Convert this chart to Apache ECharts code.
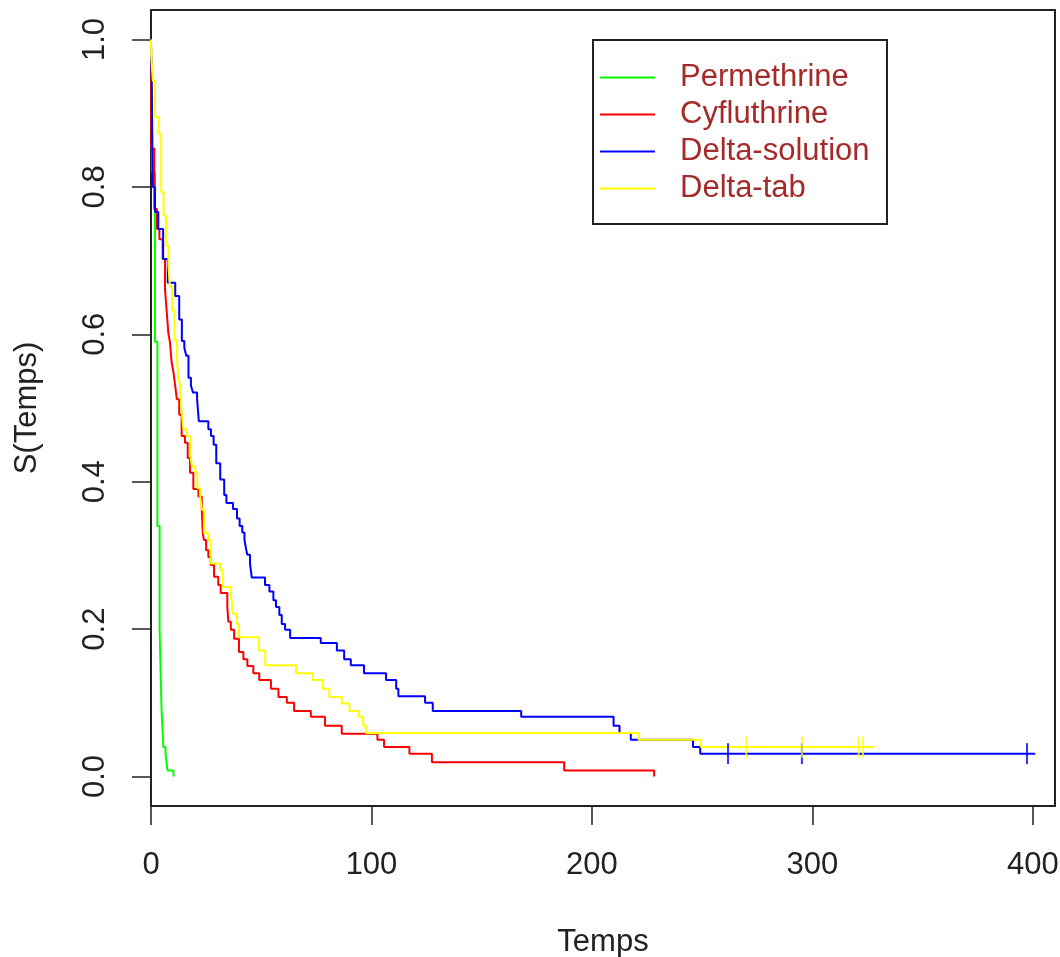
<!DOCTYPE html>
<html>
<head>
<meta charset="utf-8">
<script src="https://cdn.jsdelivr.net/npm/echarts@6/dist/echarts.min.js"></script>
<style>
html,body{margin:0;padding:0;background:#fff;}
#chart{width:1060px;height:957px;}
</style>
</head>
<body>
<div id="chart"></div>
<script>
// ---- data (Kaplan-Meier step curves: jump time -> survival after jump) ----
const seriesNames = ['Permethrine', 'Cyfluthrine', 'Delta-solution', 'Delta-tab'];

const permT = [0, 0.6, 1.8, 2.9, 3.9, 4.8, 5.6, 6.6, 7.5, 10.2];
const permS = [1, 0.82, 0.59, 0.34, 0.20, 0.09, 0.04, 0.03, 0.008, 0];

const cyfT = [0, 0.05, 0.2, 1.5, 2.7, 3.8, 5.3, 6.35, 7.1, 7.85, 8.6, 9.4, 10.1, 10.9, 11.7, 12.8, 13.9, 15.4, 16.65, 17.7, 19.2, 21.5, 23.0, 23.5, 24.0, 25.0, 26.0, 27.1, 28.6, 30.5, 31.6, 34.6, 35.1, 36.2, 37.7, 39.9, 41.9, 43.7, 46.4, 49.1, 54.4, 57.8, 61.6, 64.9, 72.5, 78.9, 86.5, 102.7, 105.7, 117.2, 127.4, 187.4, 228.2];
const cyfS = [1, 0.95, 0.852, 0.77, 0.743, 0.729, 0.702, 0.661, 0.632, 0.602, 0.589, 0.561, 0.550, 0.532, 0.512, 0.491, 0.462, 0.453, 0.432, 0.412, 0.390, 0.380, 0.364, 0.330, 0.321, 0.307, 0.298, 0.287, 0.271, 0.260, 0.249, 0.230, 0.210, 0.199, 0.187, 0.169, 0.159, 0.150, 0.140, 0.131, 0.119, 0.108, 0.100, 0.089, 0.081, 0.069, 0.058, 0.050, 0.040, 0.031, 0.0195, 0.008, 0];

const dsolT = [0, 0.05, 0.3, 0.8, 1.8, 3.3, 5.5, 7.6, 11.0, 12.8, 14.0, 15.1, 16.0, 17.0, 18.1, 19.0, 20.9, 21.7, 26.0, 27.2, 28.4, 29.6, 31.4, 33.2, 34.2, 37.2, 39.0, 40.2, 41.4, 42.4, 43.1, 43.7, 44.9, 45.7, 51.7, 53.7, 55.5, 56.7, 58.2, 59.3, 60.8, 63.1, 77.0, 84.3, 87.6, 90.6, 96.6, 106.6, 111.2, 112.2, 124.3, 127.8, 167.9, 209.8, 212.5, 217.6, 245.8, 249.1, 401];
const dsolS = [1, 0.98, 0.95, 0.80, 0.766, 0.743, 0.702, 0.670, 0.652, 0.620, 0.591, 0.582, 0.571, 0.541, 0.531, 0.521, 0.512, 0.482, 0.471, 0.462, 0.450, 0.425, 0.403, 0.382, 0.371, 0.363, 0.350, 0.340, 0.331, 0.321, 0.309, 0.301, 0.289, 0.270, 0.260, 0.251, 0.239, 0.230, 0.219, 0.207, 0.199, 0.188, 0.181, 0.171, 0.159, 0.151, 0.140, 0.131, 0.119, 0.109, 0.100, 0.089, 0.081, 0.069, 0.059, 0.050, 0.040, 0.031, 0.031];

const dtabT = [0, 0.05, 0.8, 1.8, 3.6, 4.6, 5.7, 6.8, 7.9, 8.6, 9.6, 10.6, 11.7, 12.4, 13.1, 13.8, 14.7, 16.2, 17.7, 18.5, 20.0, 21.0, 22.2, 23.0, 24.0, 26.0, 27.1, 31.3, 32.5, 36.2, 37.1, 38.9, 39.9, 49.0, 51.8, 65.8, 73.4, 77.9, 80.9, 86.5, 90.0, 94.1, 96.3, 97.5, 221.1, 249.4, 327.7];
const dtabS = [1, 0.98, 0.944, 0.895, 0.872, 0.793, 0.761, 0.720, 0.693, 0.665, 0.633, 0.592, 0.571, 0.541, 0.532, 0.500, 0.471, 0.462, 0.441, 0.421, 0.413, 0.391, 0.382, 0.362, 0.330, 0.321, 0.289, 0.280, 0.257, 0.250, 0.221, 0.207, 0.189, 0.171, 0.151, 0.140, 0.131, 0.119, 0.108, 0.099, 0.089, 0.081, 0.069, 0.059, 0.050, 0.040, 0.040];

// censoring marks (+)
const dsolCensT = [261.7, 295.2, 397.3];
const dsolCensS = [0.031, 0.031, 0.031];
const dtabCensT = [270.0, 295.2, 320.9, 322.9];
const dtabCensS = [0.040, 0.040, 0.040, 0.040];

const xTicks = [0, 100, 200, 300, 400];
const yTicks = [0, 0.2, 0.4, 0.6, 0.8, 1.0];

const colors = ['#00FF00', '#FF0000', '#0000FF', '#FFFF00'];
const FONT = 'Liberation Sans, Arial, sans-serif';

function pairs(t, s) { return t.map((v, i) => [v, s[i]]); }

const curveData = [pairs(permT, permS), pairs(cyfT, cyfS), pairs(dsolT, dsolS), pairs(dtabT, dtabS)];

const series = curveData.map((d, i) => ({
  name: seriesNames[i],
  type: 'line',
  step: 'end',
  data: d,
  symbol: 'none',
  lineStyle: { color: colors[i], width: 2 },
  itemStyle: { color: colors[i] },
  z: 3 + i
}));
series.push({
  type: 'scatter', data: pairs(dsolCensT, dsolCensS), symbol: 'rect', symbolSize: [2, 21],
  itemStyle: { color: colors[2] }, silent: true, z: 6
});
series.push({
  type: 'scatter', data: pairs(dtabCensT, dtabCensS), symbol: 'rect', symbolSize: [2, 21],
  itemStyle: { color: colors[3] }, silent: true, z: 7
});

const chart = echarts.init(document.getElementById('chart'));
chart.setOption({
  animation: false,
  backgroundColor: '#ffffff',
  textStyle: { fontFamily: FONT },
  grid: { left: 151, right: 5, top: 10, bottom: 151, show: true, borderColor: '#222', borderWidth: 2,
    backgroundColor: 'transparent', containLabel: false, outerBoundsMode: 'none' },
  xAxis: {
    type: 'value', min: 0, max: 410,
    name: 'Temps', nameLocation: 'middle', nameGap: 121,
    nameTextStyle: { fontSize: 31, color: '#222', fontFamily: FONT },
    axisLine: { show: false, onZero: false },
    axisTick: { show: true, inside: false, length: 19, customValues: xTicks, lineStyle: { color: '#222', width: 1.5 } },
    axisLabel: { customValues: xTicks, fontSize: 31, color: '#222', margin: 44, fontFamily: FONT },
    splitLine: { show: false }
  },
  yAxis: {
    type: 'value', min: -0.04, max: 1.04,
    name: 'S(Temps)', nameLocation: 'middle', nameGap: 108, nameRotate: 90,
    nameTextStyle: { fontSize: 31, color: '#222', fontFamily: FONT },
    axisLine: { show: false, onZero: false },
    axisTick: { show: true, inside: false, length: 19, customValues: yTicks, lineStyle: { color: '#222', width: 1.5 } },
    axisLabel: { customValues: yTicks, rotate: 90, fontSize: 31, color: '#222', margin: 40, fontFamily: FONT,
      formatter: v => v.toFixed(1) },
    splitLine: { show: false }
  },
  legend: {
    data: seriesNames,
    orient: 'vertical',
    left: 600, top: 59,
    padding: 0,
    itemGap: 0,
    itemWidth: 55, itemHeight: 2,
    icon: 'rect',
    textStyle: { fontSize: 31, color: '#A52A2A', lineHeight: 37, padding: [0, 0, 0, 20], fontFamily: FONT }
  },
  graphic: [{
    type: 'rect', shape: { x: 593, y: 40, width: 294, height: 184 },
    style: { fill: 'none', stroke: '#222', lineWidth: 2 }, z: 10
  }],
  series: series
});
</script>
</body>
</html>
